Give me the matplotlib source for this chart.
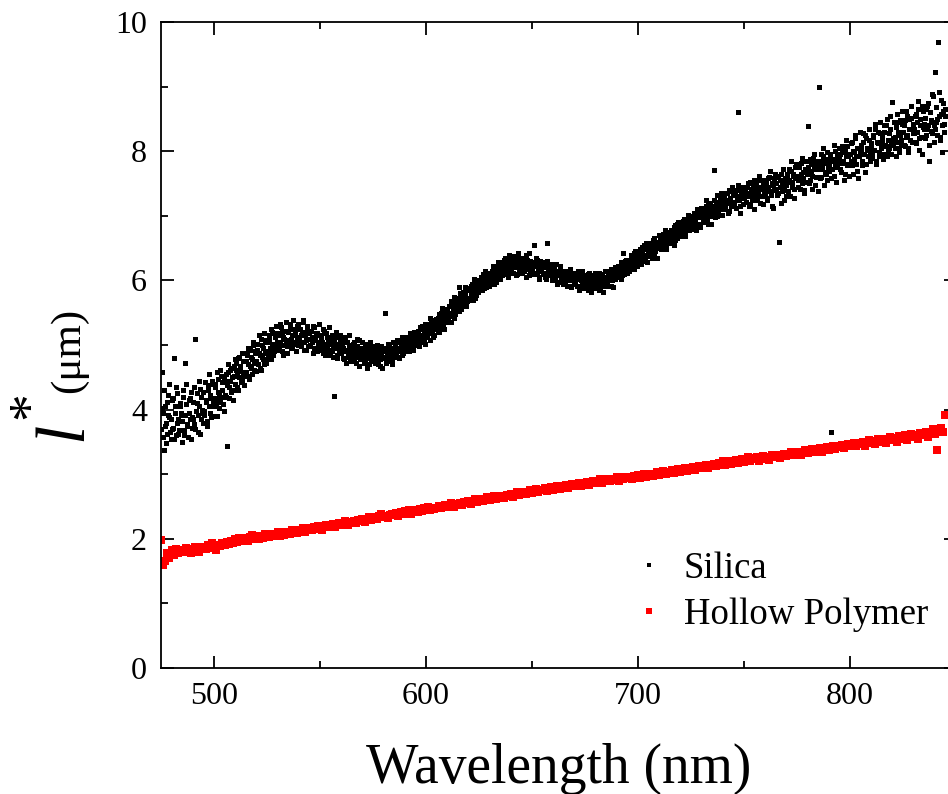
import numpy as np
import matplotlib
matplotlib.use("Agg")
import matplotlib.pyplot as plt
from matplotlib.ticker import MultipleLocator

plt.rcParams['font.family'] = ['Liberation Serif', 'DejaVu Serif']

# transport mean free path l* (um) for silica, sampled every 0.5 nm from 475.0 nm
silica = [
    3.70, 4.58, 3.95, 3.38, 4.05, 3.80, 3.62, 4.22, 3.88, 3.55,
    4.15, 3.72, 4.80, 3.95, 3.60, 4.25, 3.85, 3.68, 4.05, 3.92,
    3.82, 4.30, 3.60, 4.72, 4.08, 3.75, 3.95, 4.18, 3.55, 3.88,
    4.12, 3.78, 5.10, 3.98, 4.25, 3.66, 4.05, 4.32, 3.85, 3.95,
    4.28, 3.92, 4.15, 3.75, 4.38, 4.05, 4.22, 3.88, 4.45, 4.10,
    4.05, 4.40, 4.18, 3.90, 4.48, 4.25, 4.12, 4.52, 4.30, 3.98,
    4.45, 4.20, 3.43, 4.58, 4.35, 4.62, 4.28, 4.50, 4.15, 4.68,
    4.40, 4.72, 4.55, 4.30, 4.82, 4.60, 4.45, 4.75, 4.52, 4.88,
    4.58, 4.85, 4.70, 4.48, 4.92, 4.65, 4.78, 5.00, 4.62, 4.88,
    4.75, 5.02, 4.88, 4.65, 5.10, 4.82, 4.95, 4.70, 5.08, 4.90,
    5.05, 4.85, 5.15, 4.95, 4.78, 5.20, 5.00, 4.90, 5.12, 4.98,
    4.95, 5.18, 5.05, 5.28, 4.90, 5.12, 5.00, 5.22, 5.08, 4.88,
    5.20, 5.02, 5.32, 5.10, 4.95, 5.25, 5.15, 5.05, 5.30, 5.00,
    5.08, 5.25, 4.98, 5.18, 5.35, 5.05, 5.15, 4.92, 5.22, 5.10,
    5.20, 5.00, 5.12, 5.30, 4.95, 5.08, 5.18, 4.90, 5.15, 5.05,
    4.98, 5.15, 5.05, 4.88, 5.22, 5.00, 4.92, 5.12, 5.02, 4.85,
    5.08, 4.90, 5.00, 4.21, 4.95, 5.12, 4.85, 5.02, 4.92, 5.15,
    4.88, 5.05, 4.95, 4.78, 5.10, 4.90, 4.82, 5.00, 4.92, 4.75,
    4.95, 4.80, 5.05, 4.88, 4.72, 4.98, 4.85, 5.08, 4.78, 4.90,
    4.82, 4.95, 4.75, 4.88, 5.02, 4.80, 4.70, 4.92, 4.85, 4.98,
    4.78, 4.90, 4.72, 4.85, 4.98, 4.80, 4.92, 4.68, 4.88, 4.82,
    4.95, 5.50, 4.80, 4.90, 4.75, 5.00, 4.85, 4.95, 4.78, 4.92,
    4.88, 5.02, 4.95, 4.82, 5.08, 4.92, 5.00, 4.85, 5.05, 4.98,
    5.05, 4.92, 5.12, 5.00, 4.90, 5.15, 5.02, 5.10, 4.95, 5.18,
    5.12, 5.00, 5.22, 5.08, 5.28, 5.05, 5.15, 5.25, 5.10, 5.02,
    5.25, 5.12, 5.32, 5.18, 5.08, 5.35, 5.22, 5.30, 5.15, 5.40,
    5.28, 5.42, 5.20, 5.38, 5.50, 5.32, 5.45, 5.25, 5.55, 5.40,
    5.52, 5.38, 5.60, 5.45, 5.68, 5.50, 5.42, 5.65, 5.58, 5.72,
    5.60, 5.90, 5.75, 5.55, 5.70, 5.82, 5.65, 5.78, 5.88, 5.68,
    5.72, 5.88, 5.80, 5.95, 5.70, 5.85, 5.92, 5.78, 6.00, 5.82,
    5.98, 5.85, 6.02, 5.92, 6.10, 5.88, 6.05, 5.95, 6.12, 6.00,
    6.08, 5.95, 6.15, 6.02, 6.20, 6.10, 5.98, 6.18, 6.05, 6.25,
    6.15, 6.28, 6.08, 6.20, 6.32, 6.12, 6.25, 6.05, 6.22, 6.35,
    6.18, 6.30, 6.12, 6.25, 6.38, 6.20, 6.10, 6.28, 6.35, 6.15,
    6.25, 6.12, 6.32, 6.20, 6.40, 6.18, 6.28, 6.08, 6.30, 6.22,
    6.15, 6.28, 6.55, 6.22, 6.10, 6.32, 6.18, 6.05, 6.25, 6.20,
    6.25, 6.10, 6.20, 6.02, 6.58, 6.15, 6.22, 6.08, 6.18, 6.00,
    6.10, 6.20, 6.02, 6.15, 5.95, 6.12, 6.22, 6.05, 5.98, 6.15,
    6.00, 6.12, 6.05, 5.92, 6.15, 6.02, 6.08, 5.90, 6.10, 6.00,
    6.08, 5.95, 6.05, 6.15, 5.90, 6.02, 6.10, 5.98, 5.88, 6.05,
    5.95, 6.08, 6.00, 5.85, 6.12, 5.98, 6.05, 5.90, 6.02, 6.10,
    5.92, 6.05, 5.98, 6.12, 5.88, 6.00, 6.08, 5.82, 6.02, 5.95,
    6.05, 5.95, 6.10, 6.00, 6.15, 5.92, 6.08, 6.18, 6.02, 6.12,
    6.15, 6.05, 6.20, 6.12, 6.28, 6.08, 6.42, 6.18, 6.25, 6.32,
    6.20, 6.32, 6.25, 6.38, 6.18, 6.30, 6.42, 6.28, 6.35, 6.22,
    6.40, 6.28, 6.45, 6.35, 6.52, 6.30, 6.48, 6.40, 6.58, 6.38,
    6.50, 6.38, 6.55, 6.45, 6.62, 6.42, 6.58, 6.50, 6.35, 6.60,
    6.55, 6.68, 6.50, 6.62, 6.72, 6.58, 6.48, 6.65, 6.75, 6.60,
    6.70, 6.58, 6.75, 6.65, 6.82, 6.62, 6.78, 6.88, 6.70, 6.80,
    6.75, 6.88, 6.80, 6.95, 6.72, 6.85, 6.92, 6.78, 7.00, 6.82,
    6.92, 6.82, 7.00, 6.90, 7.05, 6.85, 6.98, 7.08, 6.88, 7.02,
    7.05, 6.92, 7.10, 6.98, 7.15, 7.02, 6.88, 7.12, 7.20, 7.00,
    7.15, 7.05, 7.71, 7.12, 7.22, 7.00, 7.18, 7.28, 7.10, 7.25,
    7.18, 7.30, 7.12, 7.25, 7.35, 7.20, 7.08, 7.28, 7.38, 7.15,
    7.32, 7.20, 7.40, 7.25, 8.60, 7.30, 7.15, 7.38, 7.28, 7.45,
    7.28, 7.40, 7.22, 7.35, 7.50, 7.30, 7.18, 7.42, 7.32, 7.55,
    7.40, 7.25, 7.45, 7.35, 7.55, 7.20, 7.42, 7.30, 7.50, 7.38,
    7.35, 7.52, 7.28, 7.45, 7.60, 7.38, 7.15, 7.48, 7.58, 7.40,
    7.50, 7.32, 7.60, 6.59, 7.45, 7.65, 7.38, 7.55, 7.25, 7.52,
    7.48, 7.65, 7.55, 7.30, 7.70, 7.50, 7.62, 7.42, 7.75, 7.58,
    7.62, 7.45, 7.75, 7.58, 7.82, 7.50, 7.68, 7.40, 7.72, 7.65,
    8.39, 7.70, 7.55, 7.80, 7.62, 7.90, 7.72, 7.48, 7.78, 7.85,
    7.72, 9.00, 7.85, 7.60, 7.78, 7.92, 7.68, 7.82, 7.55, 7.88,
    7.80, 7.95, 3.65, 7.72, 7.88, 7.62, 8.00, 7.85, 7.75, 7.92,
    7.90, 7.72, 8.02, 7.85, 7.98, 7.65, 7.92, 8.08, 7.80, 7.95,
    7.95, 8.12, 7.78, 8.00, 7.88, 8.20, 7.92, 7.70, 8.05, 7.98,
    8.02, 7.85, 8.15, 7.95, 8.25, 7.80, 8.05, 7.92, 8.18, 8.00,
    8.08, 7.90, 8.22, 8.02, 8.35, 7.85, 8.12, 7.98, 8.28, 8.05,
    8.15, 7.95, 8.30, 8.10, 8.40, 7.92, 8.18, 8.05, 8.35, 8.12,
    8.76, 8.20, 8.05, 8.38, 8.15, 8.45, 7.98, 8.25, 8.12, 8.42,
    8.30, 8.10, 8.48, 8.22, 8.55, 8.05, 8.35, 8.18, 8.52, 8.28,
    8.35, 8.15, 8.58, 8.30, 8.65, 8.02, 8.40, 8.22, 8.70, 8.38,
    8.42, 8.20, 8.65, 8.35, 8.75, 8.10, 8.48, 8.28, 8.85, 8.40,
    9.23, 8.45, 8.25, 9.69, 8.55, 8.18, 8.80, 8.40, 8.62, 8.30,
    8.55,
]

# second silica scan, interleaved: every 0.5 nm from 475.25 nm
silica_b = [
    4.02, 3.58, 4.30, 3.75, 3.48, 4.12, 3.92, 4.40, 3.65, 3.85,
    3.70, 4.18, 3.55, 4.05, 4.35, 3.80, 3.62, 4.10, 3.95, 3.50,
    4.20, 3.68, 3.92, 4.40, 3.78, 3.58, 4.15, 3.85, 4.28, 3.72,
    3.85, 4.35, 3.70, 4.10, 3.92, 4.45, 3.62, 4.20, 4.00, 3.80,
    3.98, 4.42, 4.12, 3.82, 4.30, 4.55, 3.95, 4.18, 4.40, 3.90,
    4.35, 4.10, 4.58, 4.28, 4.02, 4.62, 4.20, 4.42, 4.08, 4.50,
    4.22, 4.55, 4.38, 4.70, 4.18, 4.45, 4.65, 4.30, 4.52, 4.78,
    4.62, 4.35, 4.80, 4.50, 4.68, 4.42, 4.88, 4.58, 4.38, 4.75,
    4.75, 4.52, 4.95, 4.68, 4.82, 4.55, 5.05, 4.72, 4.90, 4.60,
    4.92, 4.70, 5.15, 4.85, 4.62, 5.00, 4.78, 5.18, 4.88, 4.72,
    4.80, 5.10, 4.92, 5.25, 5.02, 4.85, 5.18, 4.95, 5.30, 5.05,
    5.15, 4.92, 5.32, 5.00, 5.20, 4.85, 5.10, 5.35, 4.98, 5.22,
    5.05, 5.28, 4.95, 5.15, 5.38, 5.02, 5.22, 4.90, 5.12, 5.32,
    5.25, 5.00, 5.15, 5.38, 4.92, 5.20, 5.08, 5.30, 4.98, 5.18,
    4.98, 5.22, 5.05, 4.88, 5.28, 5.12, 4.95, 5.18, 5.00, 5.32,
    5.12, 4.92, 5.25, 5.02, 4.85, 5.18, 4.95, 5.08, 5.28, 4.90,
    4.92, 5.15, 4.82, 5.05, 4.95, 5.20, 4.80, 5.00, 5.10, 4.88,
    5.00, 4.80, 5.12, 4.92, 4.72, 5.05, 4.85, 5.15, 4.78, 4.95,
    4.85, 5.02, 4.75, 4.92, 5.10, 4.82, 4.68, 4.95, 4.88, 5.05,
    4.90, 4.72, 5.00, 4.80, 4.65, 4.95, 4.85, 5.05, 4.75, 4.88,
    4.92, 4.75, 4.85, 5.00, 4.70, 4.88, 4.78, 4.98, 4.65, 4.90,
    4.80, 4.95, 4.72, 4.88, 5.02, 4.78, 4.92, 4.70, 5.05, 4.85,
    4.98, 4.85, 5.08, 4.90, 4.80, 5.05, 4.95, 5.12, 4.88, 5.00,
    4.95, 5.10, 4.90, 5.05, 5.18, 4.98, 5.08, 4.92, 5.20, 5.05,
    5.05, 5.20, 5.12, 4.98, 5.25, 5.15, 5.30, 5.08, 5.22, 5.32,
    5.15, 5.30, 5.22, 5.42, 5.18, 5.28, 5.12, 5.38, 5.25, 5.35,
    5.35, 5.22, 5.48, 5.30, 5.40, 5.58, 5.28, 5.52, 5.36, 5.48,
    5.42, 5.60, 5.48, 5.35, 5.62, 5.55, 5.75, 5.48, 5.68, 5.52,
    5.68, 5.52, 5.80, 5.65, 5.62, 5.75, 5.90, 5.60, 5.72, 5.85,
    5.85, 5.70, 5.92, 5.75, 5.88, 6.02, 5.72, 5.95, 5.82, 5.90,
    5.92, 6.05, 5.85, 6.00, 5.95, 6.15, 5.90, 6.08, 6.02, 5.92,
    6.00, 6.12, 6.05, 6.22, 5.95, 6.15, 6.08, 6.28, 6.10, 6.02,
    6.22, 6.08, 6.25, 6.15, 6.35, 6.10, 6.28, 6.18, 6.40, 6.12,
    6.25, 6.12, 6.38, 6.22, 6.08, 6.32, 6.42, 6.18, 6.28, 6.12,
    6.18, 6.35, 6.15, 6.28, 6.05, 6.32, 6.22, 6.42, 6.12, 6.25,
    6.28, 6.10, 6.22, 6.35, 6.12, 6.25, 6.02, 6.30, 6.15, 6.22,
    6.12, 6.28, 6.05, 6.20, 6.30, 6.08, 6.18, 6.25, 6.02, 6.15,
    6.18, 6.02, 6.25, 6.08, 6.15, 5.98, 6.20, 6.05, 6.12, 5.95,
    6.10, 5.95, 6.15, 6.00, 6.08, 6.18, 5.92, 6.05, 6.12, 5.98,
    5.98, 6.12, 5.92, 6.05, 5.85, 6.08, 6.00, 6.15, 5.92, 6.02,
    6.05, 5.90, 6.10, 5.95, 6.02, 5.82, 6.08, 5.98, 5.88, 6.12,
    6.08, 5.90, 6.02, 5.85, 6.10, 5.95, 6.05, 5.92, 6.15, 5.98,
    5.98, 6.12, 5.92, 6.05, 6.18, 6.00, 5.90, 6.10, 6.20, 6.05,
    6.08, 6.22, 6.15, 6.02, 6.25, 6.18, 6.10, 6.30, 6.22, 6.12,
    6.30, 6.15, 6.28, 6.40, 6.22, 6.35, 6.18, 6.45, 6.30, 6.38,
    6.32, 6.48, 6.25, 6.42, 6.38, 6.55, 6.35, 6.50, 6.28, 6.45,
    6.42, 6.58, 6.48, 6.35, 6.55, 6.65, 6.45, 6.60, 6.52, 6.70,
    6.62, 6.48, 6.70, 6.55, 6.65, 6.78, 6.52, 6.72, 6.60, 6.68,
    6.62, 6.78, 6.70, 6.55, 6.85, 6.72, 6.65, 6.90, 6.75, 6.68,
    6.85, 6.72, 6.92, 6.80, 6.68, 6.95, 6.82, 7.02, 6.78, 6.90,
    6.95, 6.80, 7.05, 6.92, 6.78, 7.10, 6.88, 7.00, 6.82, 7.12,
    6.98, 7.12, 6.90, 7.08, 7.25, 6.95, 7.18, 7.05, 6.88, 7.15,
    7.08, 7.25, 6.98, 7.18, 7.32, 7.05, 7.22, 7.12, 7.35, 7.02,
    7.25, 7.10, 7.35, 7.22, 7.05, 7.40, 7.28, 7.15, 7.45, 7.20,
    7.22, 7.38, 7.12, 7.30, 7.48, 7.25, 7.05, 7.40, 7.32, 7.18,
    7.38, 7.22, 7.45, 7.30, 7.15, 7.52, 7.35, 7.25, 7.48, 7.10,
    7.32, 7.50, 7.28, 7.42, 7.62, 7.30, 7.45, 7.18, 7.55, 7.35,
    7.45, 7.25, 7.58, 7.38, 7.70, 7.32, 7.50, 7.12, 7.42, 7.65,
    7.42, 7.62, 7.35, 7.55, 7.20, 7.48, 7.72, 7.40, 7.58, 7.30,
    7.60, 7.38, 7.72, 7.52, 7.85, 7.45, 7.65, 7.28, 7.58, 7.80,
    7.55, 7.78, 7.42, 7.65, 7.90, 7.58, 7.35, 7.70, 7.85, 7.52,
    7.75, 7.50, 7.88, 7.65, 7.42, 7.82, 7.95, 7.60, 7.78, 7.38,
    7.80, 7.58, 7.95, 7.72, 8.05, 7.48, 7.85, 7.65, 7.98, 7.75,
    7.70, 7.92, 7.58, 7.85, 8.10, 7.78, 7.52, 7.95, 7.82, 8.05,
    7.95, 7.68, 8.08, 7.82, 7.55, 8.00, 8.18, 7.78, 7.92, 7.62,
    7.85, 8.15, 7.65, 7.98, 8.25, 7.80, 8.05, 7.58, 7.92, 8.30,
    8.10, 7.78, 8.28, 7.95, 7.68, 8.20, 8.02, 8.35, 7.85, 8.12,
    7.95, 8.25, 8.02, 8.42, 7.80, 8.15, 8.30, 7.92, 8.45, 8.08,
    8.22, 7.88, 8.40, 8.08, 8.50, 8.00, 8.28, 8.55, 7.95, 8.18,
    8.10, 8.45, 8.22, 7.92, 8.58, 8.30, 8.05, 8.48, 8.18, 8.62,
    8.40, 8.08, 8.62, 8.25, 7.98, 8.50, 8.35, 8.70, 8.15, 8.42,
    8.28, 8.55, 8.12, 8.45, 8.78, 8.20, 8.50, 7.95, 8.62, 8.35,
    8.52, 8.25, 8.70, 8.40, 7.85, 8.60, 8.32, 8.88, 8.45, 8.15,
    8.35, 8.68, 8.50, 8.92, 8.22, 8.58, 7.98, 8.75, 8.42, 8.65,
]

# hollow polymer spheres, sampled every 1 nm from 475 nm
hollow = [
    1.98, 1.60, 1.66, 1.78, 1.70, 1.82, 1.75, 1.84, 1.78, 1.80,
    1.83, 1.79, 1.86, 1.81, 1.78, 1.84, 1.87, 1.82, 1.80, 1.85,
    1.88, 1.84, 1.90, 1.86, 1.93, 1.87, 1.83, 1.91, 1.89, 1.94,
    1.90, 1.95, 1.92, 1.97, 1.93, 1.99, 1.95, 2.02, 1.96, 1.98,
    2.01, 1.97, 2.03, 2.06, 2.00, 2.04, 1.99, 2.05, 2.02, 2.07,
    2.05, 2.03, 2.08, 2.04, 2.07, 2.10, 2.05, 2.09, 2.06, 2.11,
    2.10, 2.08, 2.13, 2.11, 2.09, 2.14, 2.12, 2.16, 2.11, 2.15,
    2.16, 2.13, 2.18, 2.15, 2.20, 2.17, 2.14, 2.19, 2.21, 2.18,
    2.20, 2.23, 2.19, 2.22, 2.25, 2.21, 2.24, 2.27, 2.22, 2.26,
    2.25, 2.28, 2.24, 2.29, 2.27, 2.31, 2.26, 2.30, 2.33, 2.29,
    2.31, 2.34, 2.30, 2.35, 2.38, 2.33, 2.36, 2.32, 2.37, 2.39,
    2.37, 2.40, 2.36, 2.41, 2.38, 2.43, 2.40, 2.44, 2.39, 2.42,
    2.44, 2.41, 2.46, 2.43, 2.47, 2.45, 2.49, 2.44, 2.48, 2.46,
    2.48, 2.51, 2.47, 2.50, 2.53, 2.49, 2.52, 2.55, 2.50, 2.54,
    2.53, 2.56, 2.52, 2.57, 2.55, 2.59, 2.54, 2.58, 2.61, 2.57,
    2.59, 2.62, 2.58, 2.61, 2.64, 2.60, 2.63, 2.66, 2.62, 2.65,
    2.64, 2.67, 2.63, 2.68, 2.66, 2.70, 2.65, 2.69, 2.72, 2.68,
    2.70, 2.73, 2.69, 2.72, 2.75, 2.71, 2.74, 2.77, 2.72, 2.76,
    2.75, 2.78, 2.74, 2.77, 2.80, 2.76, 2.79, 2.82, 2.77, 2.81,
    2.80, 2.83, 2.79, 2.82, 2.85, 2.81, 2.84, 2.87, 2.82, 2.86,
    2.85, 2.88, 2.84, 2.87, 2.90, 2.86, 2.89, 2.92, 2.87, 2.91,
    2.90, 2.92, 2.89, 2.93, 2.91, 2.95, 2.90, 2.94, 2.92, 2.96,
    2.94, 2.96, 2.93, 2.97, 2.95, 2.99, 2.94, 2.98, 3.00, 2.96,
    2.98, 3.01, 2.97, 3.00, 3.03, 2.99, 3.02, 3.05, 3.00, 3.04,
    3.03, 3.06, 3.02, 3.05, 3.08, 3.04, 3.07, 3.10, 3.05, 3.09,
    3.08, 3.11, 3.07, 3.10, 3.13, 3.09, 3.12, 3.15, 3.10, 3.14,
    3.13, 3.16, 3.12, 3.18, 3.15, 3.20, 3.14, 3.17, 3.21, 3.16,
    3.18, 3.22, 3.17, 3.21, 3.24, 3.19, 3.23, 3.26, 3.20, 3.25,
    3.23, 3.26, 3.21, 3.25, 3.28, 3.24, 3.27, 3.22, 3.29, 3.26,
    3.27, 3.30, 3.25, 3.29, 3.32, 3.28, 3.31, 3.34, 3.29, 3.33,
    3.32, 3.35, 3.30, 3.34, 3.37, 3.33, 3.36, 3.39, 3.34, 3.38,
    3.37, 3.40, 3.35, 3.39, 3.42, 3.38, 3.41, 3.44, 3.39, 3.43,
    3.42, 3.45, 3.40, 3.44, 3.47, 3.43, 3.46, 3.49, 3.44, 3.48,
    3.47, 3.50, 3.44, 3.49, 3.53, 3.48, 3.51, 3.46, 3.54, 3.50,
    3.52, 3.55, 3.49, 3.54, 3.58, 3.53, 3.56, 3.50, 3.59, 3.55,
    3.57, 3.60, 3.53, 3.59, 3.63, 3.58, 3.61, 3.55, 3.64, 3.60,
    3.62, 3.66, 3.58, 3.64, 3.70, 3.63, 3.38, 3.67, 3.72, 3.65,
    3.92,
]

wl_a = 475.0 + 0.5 * np.arange(len(silica))
wl_b = 475.25 + 0.5 * np.arange(len(silica_b))
wl_silica = np.concatenate([wl_a, wl_b])
l_silica = np.concatenate([silica, silica_b])
wl_hollow = 475 + 1.0 * np.arange(len(hollow))

W, H = 948, 794
fig = plt.figure(figsize=(W / 100, H / 100), dpi=100)
# axes runs a little past the right edge of the canvas
ax = fig.add_axes([161 / W, 1 - 668 / H, (956 - 161) / W, (668 - 22) / H])

ax.plot(wl_silica, l_silica, 's', color='black', ms=3.6, mew=0, label='Silica')
ax.plot(wl_hollow, hollow, 's', color='red', ms=5.5, mew=0, label='Hollow Polymer')

ax.set_xlim(475, 850)
ax.set_ylim(0, 10)
ax.xaxis.set_major_locator(MultipleLocator(100))
ax.xaxis.set_minor_locator(MultipleLocator(50))
ax.yaxis.set_major_locator(MultipleLocator(2))
ax.yaxis.set_minor_locator(MultipleLocator(1))
ax.tick_params(which='both', direction='in', top=True, right=True, width=1.3)
ax.tick_params(which='major', length=9, labelsize=23, pad=10)
ax.tick_params(which='minor', length=5)
for sp in ax.spines.values():
    sp.set_linewidth(1.3)

ax.set_xlabel('Wavelength (nm)', fontsize=40, labelpad=23)

# y label built from pieces: italic l, superscript star, unit
fig.text(81 / W, 1 - 431 / H, 'l', fontsize=50, style='italic', rotation=90,
         rotation_mode='anchor', ha='center', va='baseline')
fig.text(46 / W, 1 - 405 / H, '*', fontsize=40, rotation=90,
         rotation_mode='anchor', ha='center', va='baseline')
fig.text(79 / W, 1 - 350 / H, '(\u03bcm)', fontsize=31, rotation=90,
         rotation_mode='anchor', ha='center', va='baseline')

ax.legend(loc='upper left', bbox_to_anchor=(0.595, 0.181), frameon=False,
          fontsize=26.5, markerscale=0.7, handlelength=0.8, handletextpad=0.55,
          borderpad=0, borderaxespad=0, labelspacing=0.33)

fig.savefig('out.png', dpi=100)
